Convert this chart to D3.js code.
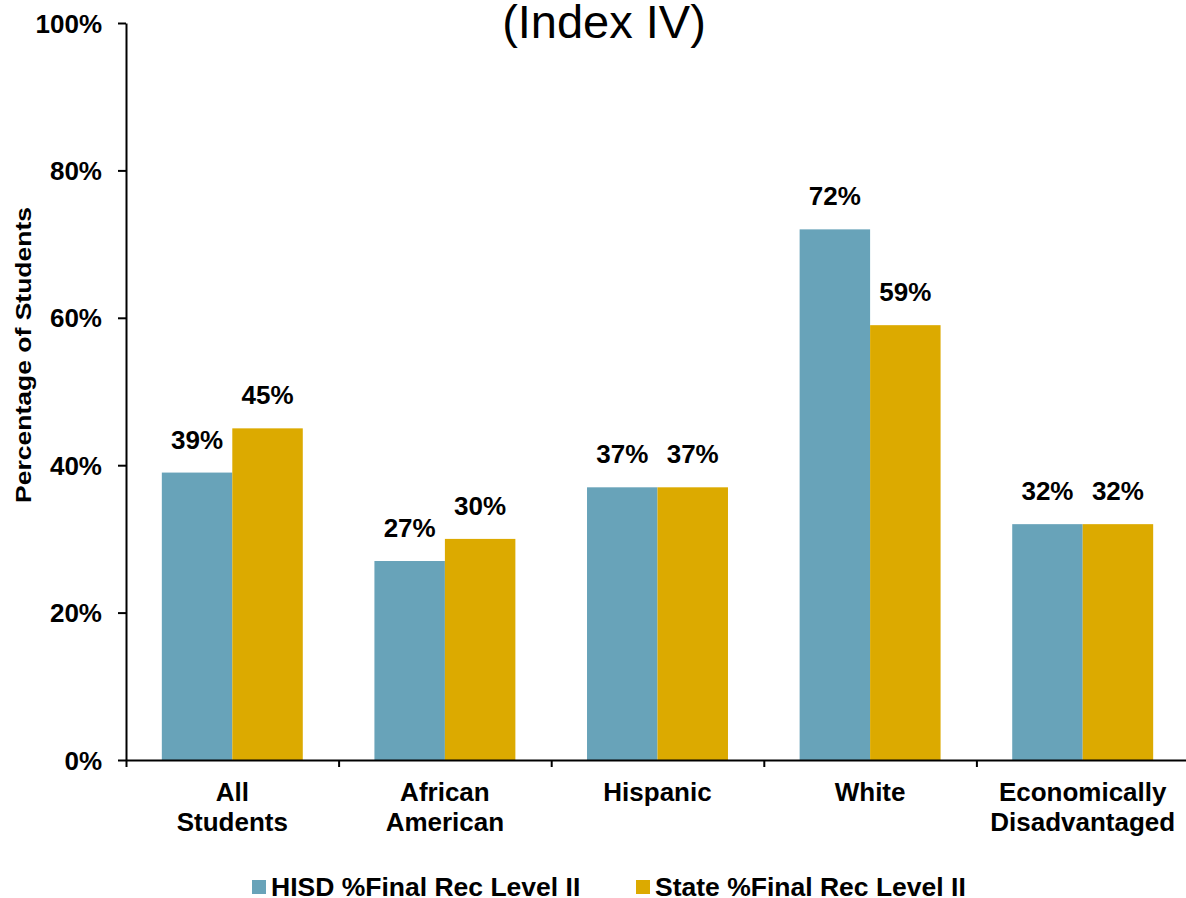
<!DOCTYPE html>
<html><head><meta charset="utf-8">
<script src="https://cdn.jsdelivr.net/npm/d3@7"></script>
<style>body{margin:0;background:#fff}svg{display:block;font-family:"Liberation Sans",Arial,sans-serif}</style>
</head><body><svg id="c" width="1186" height="898"></svg>
<script>
const categories = [["All","Students"],["African","American"],["Hispanic"],["White"],["Economically","Disadvantaged"]];
const hisdValues = [39,27,37,72,32];
const stateValues = [45,30,37,59,32];
const seriesNames = ["HISD %Final Rec Level II","State %Final Rec Level II"];
const seriesColors = ["#68a3b9","#dcaa00"];
const yTicks = [0,20,40,60,80,100];

const svg = d3.select("#c");
const x0 = 126, x1 = 1189, yTop = 23, yBot = 760;
const x = d3.scaleBand().domain(d3.range(categories.length)).range([x0,x1]).paddingInner(0.337).paddingOuter(0.1685);
const xs = d3.scaleBand().domain([0,1]).range([0,x.bandwidth()]);
const y = d3.scaleLinear().domain([0,100]).range([yBot,yTop]);
const FS = 26;

// bars
const series = [hisdValues,stateValues];
series.forEach((vals,si)=>{
  svg.append("g").selectAll("rect").data(vals).join("rect")
    .attr("x",(d,i)=>x(i)+xs(si)).attr("width",xs.bandwidth())
    .attr("y",d=>y(d)).attr("height",d=>y(0)-y(d)).attr("fill",seriesColors[si]);
  svg.append("g").selectAll("text").data(vals).join("text")
    .attr("x",(d,i)=>x(i)+xs(si)+xs.bandwidth()/2).attr("y",d=>y(d)-24)
    .attr("text-anchor","middle").attr("font-size",FS).attr("font-weight","bold").text(d=>d+"%");
});

// y axis
const ya = svg.append("g").attr("transform",`translate(${x0},0)`)
  .call(d3.axisLeft(y).tickValues(yTicks).tickFormat(d=>d+"%").tickSize(8).tickSizeOuter(0));
ya.select(".domain").attr("stroke","#000").attr("stroke-width",2);
ya.selectAll(".tick line").attr("stroke","#000").attr("stroke-width",2);
ya.selectAll(".tick text").attr("font-size",FS).attr("font-weight","bold").attr("fill","#000")
  .attr("font-family","Liberation Sans, Arial, sans-serif").attr("x",-24).attr("dy","0.35em");

// x axis
const xb = d3.scaleLinear().domain([0,categories.length]).range([x0,x1]);
const xa = svg.append("g").attr("transform",`translate(0,${yBot})`)
  .call(d3.axisBottom(xb).tickValues(d3.range(categories.length+1)).tickFormat("").tickSize(7).tickSizeOuter(0));
xa.select(".domain").attr("stroke","#000").attr("stroke-width",2);
xa.selectAll(".tick line").attr("stroke","#000").attr("stroke-width",2);

// category labels
categories.forEach((lines,i)=>{
  const cx = x(i)+x.bandwidth()/2;
  const t = svg.append("text").attr("x",cx).attr("y",801)
    .attr("text-anchor","middle").attr("font-size",FS).attr("font-weight","bold");
  lines.forEach((l,j)=>t.append("tspan").attr("x",cx).attr("dy",j?30:0).text(l));
});

// title
svg.append("text").attr("x",604).attr("y",38).attr("text-anchor","middle").attr("font-size",47).text("(Index IV)");

// y axis title
svg.append("text").attr("transform","translate(31,355) rotate(-90)").attr("text-anchor","middle")
  .attr("font-size",22).attr("font-weight","bold")
  .attr("textLength",296).attr("lengthAdjust","spacingAndGlyphs").text("Percentage of Students");

// legend
const legX = [252,636];
seriesNames.forEach((n,i)=>{
  svg.append("rect").attr("x",legX[i]).attr("y",880).attr("width",14).attr("height",14).attr("fill",seriesColors[i]);
  svg.append("text").attr("x",legX[i]+19).attr("y",896).attr("font-size",26.5).attr("font-weight","bold").text(n);
});
</script></body></html>
